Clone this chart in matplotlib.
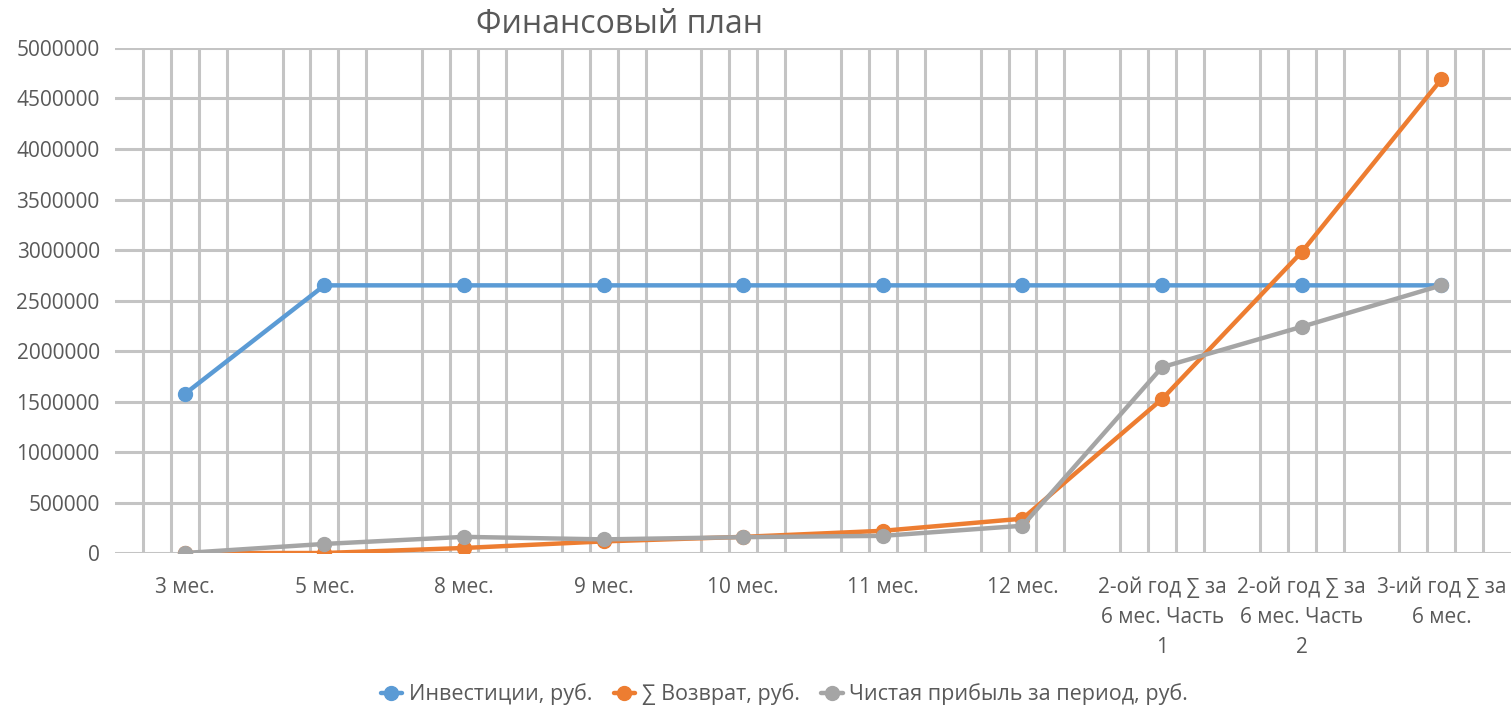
import matplotlib.pyplot as plt
import numpy as np

plt.rcParams['font.family'] = ['Open Sans', 'DejaVu Sans']

categories = ["3 мес.", "5 мес.", "8 мес.", "9 мес.", "10 мес.", "11 мес.", "12 мес.",
              "2-ой год ∑ за\n6 мес. Часть\n1", "2-ой год ∑ за\n6 мес. Часть\n2",
              "3-ий год ∑ за\n6 мес."]

investments = [1575000, 2650000, 2650000, 2650000, 2650000, 2650000, 2650000,
               2650000, 2650000, 2650000]
returns = [0, 0, 50000, 115000, 160000, 220000, 340000, 1525000, 2980000, 4690000]
net_profit = [0, 90000, 160000, 135000, 157000, 170000, 270000, 1840000, 2240000, 2650000]

series_names = ["Инвестиции, руб.", "∑ Возврат, руб.", "Чистая прибыль за период, руб."]
colors = ["#5B9BD5", "#ED7D31", "#A5A5A5"]

text_color = "#595959"
grid_color = "#C4C4C4"

fig = plt.figure(figsize=(15.11, 7.10), dpi=100)
ax = fig.add_axes([0.0761, 0.2211, 0.924, 0.7113])

x = np.arange(len(categories)) + 0.5
for vals, name, c in zip([investments, returns, net_profit], series_names, colors):
    ax.plot(x, vals, color=c, lw=3.2, marker="o", ms=10, label=name,
            solid_capstyle="round", zorder=3)

ax.set_xlim(0, len(categories))
ax.set_ylim(0, 5000000)
ax.set_yticks(np.arange(0, 5000001, 500000))
ax.set_yticklabels([f"{v:d}" for v in range(0, 5000001, 500000)])
ax.set_xticks(x)
ax.set_xticklabels(categories, linespacing=1.55)

minor = [k / 5 for k in range(0, 5 * len(categories) + 1) if k % 5 != 0]
ax.set_xticks(minor, minor=True)

ax.grid(axis="y", which="major", color=grid_color, lw=2.2, zorder=0)
ax.grid(axis="x", which="minor", color=grid_color, lw=2.2, zorder=0)
ax.set_axisbelow(True)

for s in ax.spines.values():
    s.set_visible(False)

ax.tick_params(axis="both", which="both", length=0, colors=text_color, labelsize=15)
ax.tick_params(axis="x", pad=17)
ax.tick_params(axis="y", pad=11)

fig.text(0.41, 0.966, "Финансовый план", ha="center", va="center",
         fontsize=23, color=text_color)

fig.legend(loc="center", bbox_to_anchor=(0.519, 0.022), ncol=3, frameon=False,
           fontsize=15.5, labelcolor=text_color, handlelength=1.0,
           columnspacing=1.0, handletextpad=0.3)

fig.savefig("out.png", dpi=100)
